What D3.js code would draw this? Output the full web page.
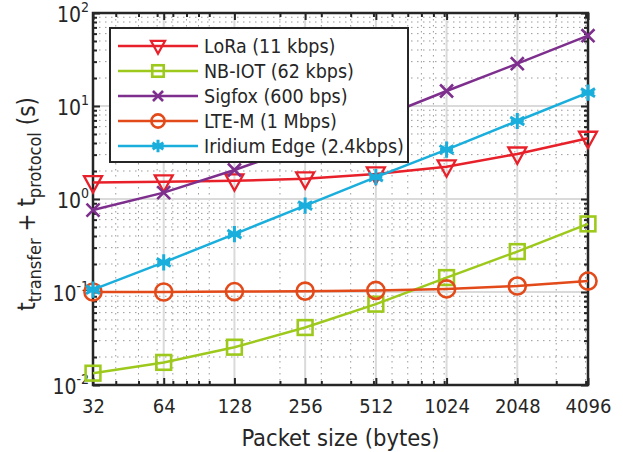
<!DOCTYPE html>
<html><head><meta charset="utf-8">
<script src="https://cdn.jsdelivr.net/npm/d3@7"></script>
<style>
body{margin:0;background:#fff;}
text{font-family:"DejaVu Sans Condensed","DejaVu Sans",sans-serif;fill:#262626;}
</style></head>
<body><svg id="c" width="623" height="452"></svg>
<script>
const sizes = [32,64,128,256,512,1024,2048,4096];
const loraVals = [1.50,1.53,1.57,1.65,1.86,2.22,3.05,4.50];
const nbiotVals = [0.0134,0.0175,0.0255,0.0415,0.074,0.143,0.272,0.54];
const sigfoxVals = [0.76,1.17,2.05,3.8,7.2,14.5,28.5,57];
const ltemVals = [0.100,0.100,0.101,0.102,0.104,0.108,0.116,0.131];
const iridiumVals = [0.106,0.208,0.42,0.85,1.72,3.4,6.9,13.9];
const seriesNames = ["LoRa (11 kbps)","NB-IOT (62 kbps)","Sigfox (600 bps)","LTE-M (1 Mbps)","Iridium Edge (2.4kbps)"];
const yTickExps = [-2,-1,0,1,2];
const xLabel = "Packet size (bytes)";

const series = [
  {name:seriesNames[0], vals:loraVals, color:"#e8202a", marker:"tri"},
  {name:seriesNames[1], vals:nbiotVals, color:"#9dc91c", marker:"sq"},
  {name:seriesNames[2], vals:sigfoxVals, color:"#7e2f8e", marker:"x"},
  {name:seriesNames[3], vals:ltemVals, color:"#e34a1a", marker:"circ"},
  {name:seriesNames[4], vals:iridiumVals, color:"#1aaedc", marker:"ast"}
];

const L=93, R=588, T=13, B=385;
const FONT='"DejaVu Sans Condensed","DejaVu Sans",sans-serif';
const svg = d3.select("#c");
const x = d3.scaleLog().base(2).domain([32,4096]).range([L,R]);
const y = d3.scaleLog().base(10).domain([0.01,100]).range([B,T]);

const xMinor = [];
[10,100,1000].forEach(d=>{for(let k=1;k<10;k++){const v=k*d; if(v>32&&v<4096) xMinor.push(v);}});
const yMinor = [];
[0.01,0.1,1,10].forEach(d=>{for(let k=2;k<10;k++) yMinor.push(k*d);});

const grid = svg.append("g");
grid.selectAll(".vm").data(xMinor).enter().append("line")
  .attr("x1",d=>x(d)).attr("x2",d=>x(d)).attr("y1",T).attr("y2",B)
  .attr("stroke","#9a9a9a").attr("stroke-width",1).attr("stroke-dasharray","1.5,4.5");
grid.selectAll(".hm").data(yMinor).enter().append("line")
  .attr("y1",d=>y(d)).attr("y2",d=>y(d)).attr("x1",L).attr("x2",R)
  .attr("stroke","#9a9a9a").attr("stroke-width",1).attr("stroke-dasharray","1.5,4.5");
grid.selectAll(".vM").data(sizes.slice(1,-1)).enter().append("line")
  .attr("x1",d=>x(d)).attr("x2",d=>x(d)).attr("y1",T).attr("y2",B)
  .attr("stroke","#dadada").attr("stroke-width",2);
grid.selectAll(".hM").data([0.1,1,10]).enter().append("line")
  .attr("y1",d=>y(d)).attr("y2",d=>y(d)).attr("x1",L).attr("x2",R)
  .attr("stroke","#dadada").attr("stroke-width",2);

const ax = svg.append("g");
function styleAxis(g){g.select(".domain").remove(); g.selectAll("line").attr("stroke","#262626").attr("stroke-width",2);}
ax.append("g").attr("transform",`translate(0,${B})`)
  .call(d3.axisBottom(x).tickValues(sizes).tickFormat(d=>d).tickSize(-7).tickPadding(14))
  .call(styleAxis).call(g=>g.selectAll("text").attr("font-size",20).attr("fill","#262626").style("font-family",FONT));
ax.append("g").attr("transform",`translate(0,${B})`)
  .call(d3.axisBottom(x).tickValues(xMinor).tickFormat("").tickSize(-4)).call(styleAxis);
ax.append("g").attr("transform",`translate(0,${T})`)
  .call(d3.axisTop(x).tickValues(sizes).tickFormat("").tickSize(-7)).call(styleAxis);
ax.append("g").attr("transform",`translate(0,${T})`)
  .call(d3.axisTop(x).tickValues(xMinor).tickFormat("").tickSize(-4)).call(styleAxis);
const yMajor = yTickExps.map(e=>Math.pow(10,e));
ax.append("g").attr("transform",`translate(${L},0)`)
  .call(d3.axisLeft(y).tickValues(yMajor).tickFormat("").tickSize(-7)).call(styleAxis);
ax.append("g").attr("transform",`translate(${L},0)`)
  .call(d3.axisLeft(y).tickValues(yMinor).tickFormat("").tickSize(-4)).call(styleAxis);
ax.append("g").attr("transform",`translate(${R},0)`)
  .call(d3.axisRight(y).tickValues(yMajor).tickFormat("").tickSize(-7)).call(styleAxis);
ax.append("g").attr("transform",`translate(${R},0)`)
  .call(d3.axisRight(y).tickValues(yMinor).tickFormat("").tickSize(-4)).call(styleAxis);

yTickExps.forEach(e=>{
  const t = svg.append("text").attr("x",L-4).attr("y",y(Math.pow(10,e))+9).attr("text-anchor","end").attr("font-size",21);
  t.append("tspan").text("10");
  t.append("tspan").attr("dy",-10).attr("font-size",14).text(e);
});

svg.append("rect").attr("x",L).attr("y",T).attr("width",R-L).attr("height",B-T)
  .attr("fill","none").attr("stroke","#262626").attr("stroke-width",2.5);

function drawMarker(g,type,cx,cy,color,s){
  const sw=2.3;
  if(type==="tri"){
    g.append("path").attr("d",`M${cx-s},${cy-s*0.72} L${cx+s},${cy-s*0.72} L${cx},${cy+s*1.1} Z`)
      .attr("fill","none").attr("stroke",color).attr("stroke-width",sw);
  } else if(type==="sq"){
    const h=s*0.82;
    g.append("rect").attr("x",cx-h).attr("y",cy-h).attr("width",2*h).attr("height",2*h)
      .attr("fill","none").attr("stroke",color).attr("stroke-width",sw+0.3);
  } else if(type==="circ"){
    g.append("circle").attr("cx",cx).attr("cy",cy).attr("r",s*0.95)
      .attr("fill","none").attr("stroke",color).attr("stroke-width",sw+0.3);
  } else if(type==="x"){
    const h=s*0.72;
    g.append("path").attr("d",`M${cx-h},${cy-h}L${cx+h},${cy+h}M${cx-h},${cy+h}L${cx+h},${cy-h}`)
      .attr("stroke",color).attr("stroke-width",sw+0.3);
  } else if(type==="ast"){
    const h=s*0.9;
    let d=`M${cx},${cy-h}L${cx},${cy+h}`;
    [30,150].forEach(a=>{const r=a*Math.PI/180; d+=`M${cx-h*Math.cos(r)},${cy-h*Math.sin(r)}L${cx+h*Math.cos(r)},${cy+h*Math.sin(r)}`;});
    d+=`M${cx-h*0.8},${cy}L${cx+h*0.8},${cy}`;
    g.append("path").attr("d",d).attr("stroke",color).attr("stroke-width",sw+0.7);
  }
}

const plot = svg.append("g");
const line = d3.line().x((d,i)=>x(sizes[i])).y(d=>y(d));
series.forEach(s=>{
  plot.append("path").attr("d",line(s.vals)).attr("fill","none").attr("stroke",s.color).attr("stroke-width",2.5);
  s.vals.forEach((v,i)=>drawMarker(plot,s.marker,x(sizes[i]),y(v),s.color,9));
});

const lg = svg.append("g");
lg.append("rect").attr("x",110).attr("y",28).attr("width",298).attr("height",134)
  .attr("fill","#fff").attr("stroke","#262626").attr("stroke-width",2);
series.forEach((s,i)=>{
  const yy = 46 + i*25;
  lg.append("line").attr("x1",118).attr("x2",198).attr("y1",yy).attr("y2",yy).attr("stroke",s.color).attr("stroke-width",2.5);
  drawMarker(lg,s.marker,158,yy,s.color,7);
  lg.append("text").attr("x",204).attr("y",yy+7).attr("font-size",19.5).text(s.name);
});

svg.append("text").attr("x",(L+R)/2).attr("y",446).attr("text-anchor","middle").attr("font-size",23.5).text(xLabel);
const yl = svg.append("text").attr("transform",`translate(35,${(T+B)/2+5}) rotate(-90)`).attr("text-anchor","middle").attr("font-size",24);
yl.append("tspan").text("t");
yl.append("tspan").attr("font-size",18).attr("dy",6).text("transfer");
yl.append("tspan").attr("dy",-6).text(" + t");
yl.append("tspan").attr("font-size",18).attr("dy",6).text("protocol");
yl.append("tspan").attr("dy",-6).text(" (s)");
</script></body></html>
